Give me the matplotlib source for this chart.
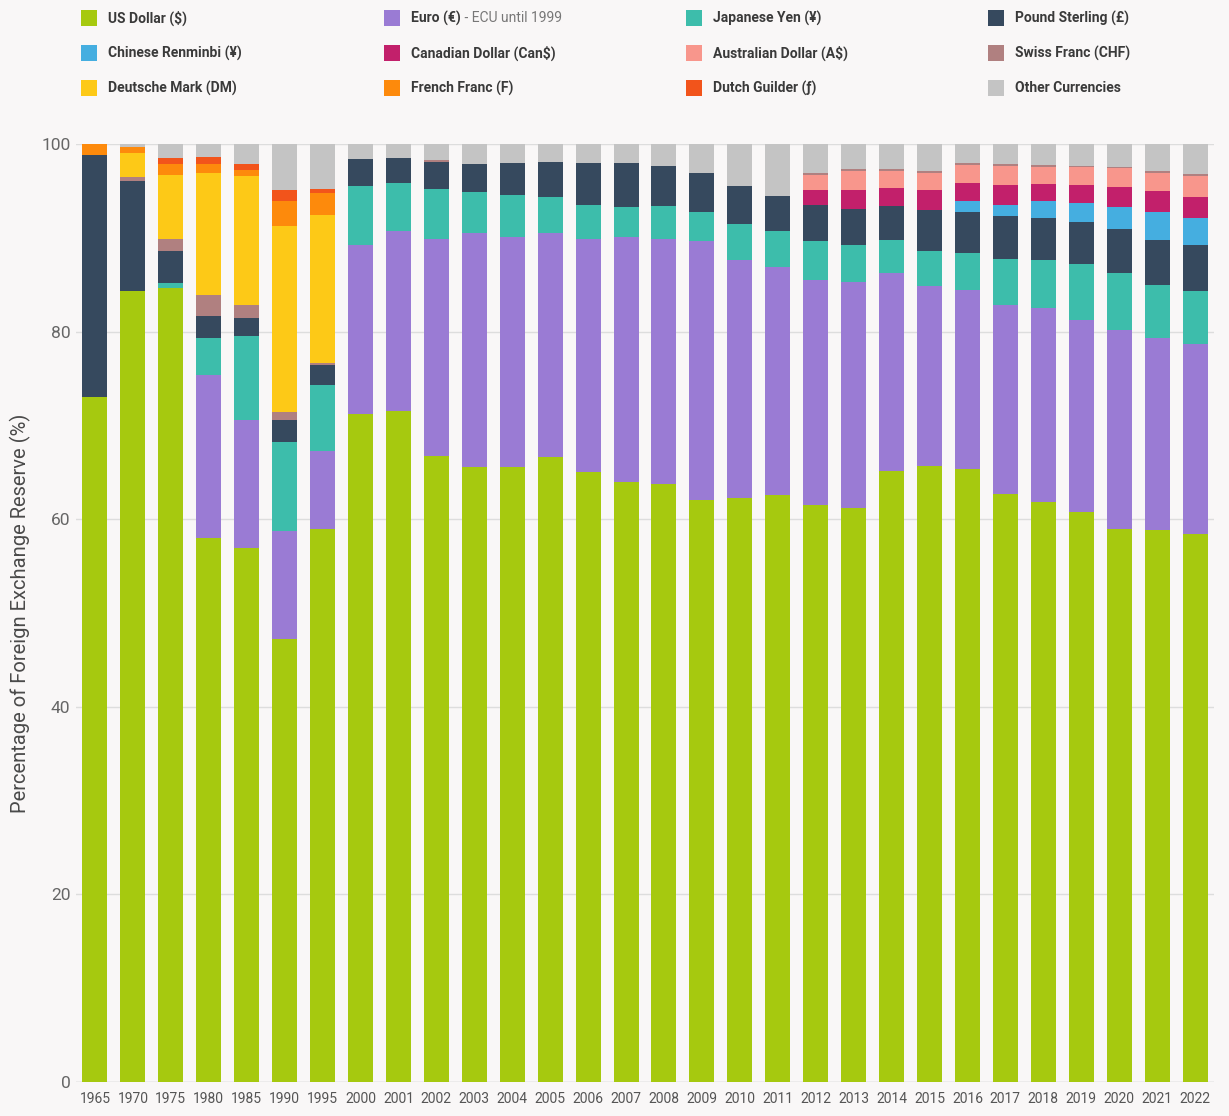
import matplotlib.pyplot as plt
from matplotlib import font_manager
from matplotlib.patches import Rectangle
import numpy as np

# Data
years = ["1965", "1970", "1975", "1980", "1985", "1990", "1995", "2000", "2001", "2002",
         "2003", "2004", "2005", "2006", "2007", "2008", "2009", "2010", "2011", "2012",
         "2013", "2014", "2015", "2016", "2017", "2018", "2019", "2020", "2021", "2022"]

usd = [73.0, 84.3, 84.6, 58.0, 56.9, 47.2, 59.0, 71.2, 71.5, 66.7,
       65.6, 65.6, 66.6, 65.0, 64.0, 63.8, 62.0, 62.3, 62.6, 61.5,
       61.2, 65.1, 65.7, 65.4, 62.7, 61.8, 60.8, 59.0, 58.8, 58.4]
eur = [0, 0, 0, 17.4, 13.7, 11.5, 8.3, 18.0, 19.2, 23.2,
       24.9, 24.5, 23.9, 24.9, 26.1, 26.1, 27.7, 25.3, 24.3, 24.0,
       24.1, 21.1, 19.2, 19.0, 20.1, 20.7, 20.4, 21.2, 20.5, 20.3]
jpy = [0, 0, 0.6, 3.9, 8.9, 9.5, 7.0, 6.3, 5.1, 5.3,
       4.4, 4.5, 3.9, 3.6, 3.2, 3.5, 3.0, 3.9, 3.8, 4.2,
       3.9, 3.6, 3.7, 4.0, 4.9, 5.1, 6.0, 6.0, 5.7, 5.6]
gbp = [25.8, 11.8, 3.4, 2.4, 1.9, 2.4, 2.1, 2.9, 2.7, 2.9,
       3.0, 3.4, 3.7, 4.5, 4.7, 4.3, 4.2, 4.0, 3.8, 3.8,
       3.9, 3.6, 4.4, 4.3, 4.6, 4.5, 4.5, 4.7, 4.8, 4.9]
cny = [0, 0, 0, 0, 0, 0, 0, 0, 0, 0,
       0, 0, 0, 0, 0, 0, 0, 0, 0, 0,
       0, 0, 0, 1.2, 1.2, 1.8, 2.0, 2.4, 2.9, 2.9]
cad = [0, 0, 0, 0, 0, 0, 0, 0, 0, 0,
       0, 0, 0, 0, 0, 0, 0, 0, 0, 1.6,
       2.0, 1.9, 2.1, 1.9, 2.1, 1.8, 1.9, 2.1, 2.3, 2.3]
aud = [0, 0, 0, 0, 0, 0, 0, 0, 0, 0,
       0, 0, 0, 0, 0, 0, 0, 0, 0, 1.6,
       2.0, 1.8, 1.8, 2.0, 2.1, 1.9, 1.9, 2.0, 1.9, 2.2]
chf = [0, 0.4, 1.3, 2.2, 1.4, 0.8, 0.3, 0, 0, 0.2,
       0, 0, 0, 0, 0, 0, 0, 0, 0, 0.2,
       0.2, 0.2, 0.2, 0.2, 0.2, 0.2, 0.2, 0.2, 0.2, 0.2]
dem = [0, 2.5, 6.8, 13.0, 13.8, 19.9, 15.7, 0, 0, 0,
       0, 0, 0, 0, 0, 0, 0, 0, 0, 0,
       0, 0, 0, 0, 0, 0, 0, 0, 0, 0]
frf = [1.2, 0.7, 1.2, 1.0, 0.6, 2.6, 2.4, 0, 0, 0,
       0, 0, 0, 0, 0, 0, 0, 0, 0, 0,
       0, 0, 0, 0, 0, 0, 0, 0, 0, 0]
nlg = [0, 0, 0.6, 0.75, 0.7, 1.2, 0.4, 0, 0, 0,
       0, 0, 0, 0, 0, 0, 0, 0, 0, 0,
       0, 0, 0, 0, 0, 0, 0, 0, 0, 0]
other = [0, 0.3, 1.5, 1.35, 2.1, 4.9, 4.8, 1.6, 1.5, 1.7,
         2.1, 2.0, 1.9, 2.0, 2.0, 2.3, 3.1, 4.5, 5.5, 3.1,
         2.7, 2.7, 2.9, 2.0, 2.1, 2.2, 2.3, 2.4, 2.9, 3.2]

labels = ["US Dollar ($)", "Euro (€)", "Japanese Yen (¥)", "Pound Sterling (£)",
          "Chinese Renminbi (¥)", "Canadian Dollar (Can$)", "Australian Dollar (A$)", "Swiss Franc (CHF)",
          "Deutsche Mark (DM)", "French Franc (F)", "Dutch Guilder (ƒ)", "Other Currencies"]
series = [usd, eur, jpy, gbp, cny, cad, aud, chf, dem, frf, nlg, other]
colors = ["#a6c90f", "#9a7bd4", "#3dbdab", "#36495e", "#45aee0", "#c2206b",
          "#f8968c", "#b08080", "#fdc917", "#fd8a0c", "#f2541b", "#c4c4c4"]

bg = "#f9f7f7"
names = {f.name for f in font_manager.fontManager.ttflist}
narrow = ["Liberation Sans Narrow", "DejaVu Sans"] if "Liberation Sans Narrow" in names else ["Roboto", "DejaVu Sans"]

W, H = 1229, 1116
fig = plt.figure(figsize=(W / 100, H / 100), dpi=100, facecolor=bg)
ax = fig.add_axes([76 / W, 1 - 1082 / H, (1214 - 76) / W, (1082 - 144) / H])
ax.set_facecolor(bg)

# Stacked bars
x = np.arange(len(years))
bottom = np.zeros(len(years))
for vals, col, lab in zip(series, colors, labels):
    ax.bar(x, vals, bottom=bottom, width=0.66, color=col, label=lab, zorder=2, linewidth=0)
    bottom += np.array(vals)

ax.set_xlim(-0.5, len(years) - 0.5)
ax.set_ylim(0, 100)
ax.set_yticks([0, 20, 40, 60, 80, 100])
ax.set_xticks(x)
ax.set_xticklabels(years, family=narrow, fontsize=10, color="#555555")
for t in ax.get_yticklabels():
    t.set_family(narrow)
    t.set_fontsize(12.5)
    t.set_color("#666666")
ax.tick_params(axis="both", length=0)
ax.tick_params(axis="x", pad=7)
ax.tick_params(axis="y", pad=4)
ax.grid(axis="y", color="#dddddd", linewidth=1, zorder=0)
for s in ax.spines.values():
    s.set_visible(False)
ax.axhline(0, color="#d0d0d0", linewidth=1, zorder=1)

ax.set_ylabel("Percentage of Foreign Exchange Reserve (%)", family=["Roboto", "DejaVu Sans"],
              fontsize=14.5, color="#4a4a4a", labelpad=7)

# Legend, drawn by hand in a 4 x 3 grid
col_x = [81, 384, 686, 988]
row_y = [18, 53, 88]
for i, (lab, col) in enumerate(zip(labels, colors)):
    cx = col_x[i % 4]
    cy = row_y[i // 4]
    fig.patches.append(Rectangle((cx / W, 1 - (cy + 8) / H), 16 / W, 16 / H,
                                 transform=fig.transFigure, facecolor=col, edgecolor="none"))
    t = fig.text((cx + 27) / W, 1 - cy / H, lab, family=narrow, fontsize=10,
                 fontweight="bold", color="#3a3a3a", va="center", ha="left")
    if i == 1:
        ax.annotate(" - ECU until 1999", xy=(1, 0.5), xycoords=t, va="center", ha="left",
                    family=narrow, fontsize=10, color="#777777", annotation_clip=False)

fig.savefig("out.png", dpi=100, facecolor=bg)
